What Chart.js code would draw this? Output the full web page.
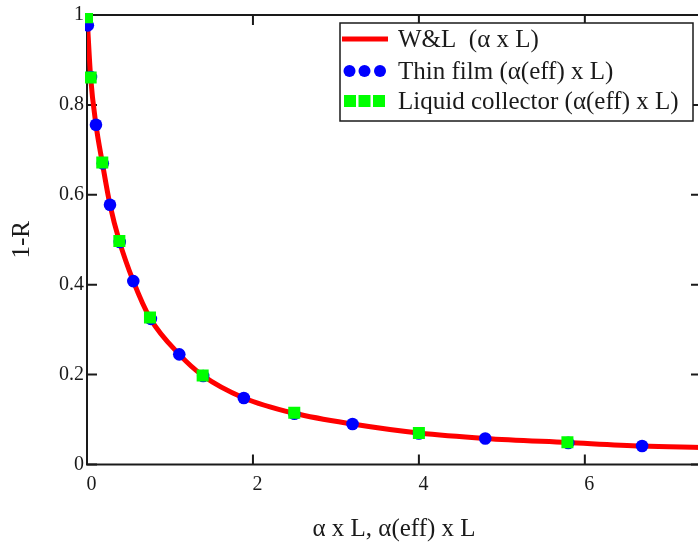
<!DOCTYPE html>
<html>
<head>
<meta charset="utf-8">
<script src="https://cdn.jsdelivr.net/npm/chart.js@4.4.1/dist/chart.umd.min.js"></script>
<style>
  html, body { margin: 0; padding: 0; overflow: hidden; background: #fff; }
  #wrap { width: 712px; height: 544px; }
</style>
</head>
<body>
<div id="wrap"><canvas id="chart" width="712" height="544"></canvas></div>
<script>
  // values
  var xTicks = [0, 2, 4, 6];
  var yTicks = [0, 0.2, 0.4, 0.6, 0.8, 1];

  var wlX = [0, 0.044, 0.108, 0.184, 0.277, 0.39, 0.558, 0.759, 1.112, 1.394, 1.89, 2.498, 3.2, 4.0, 4.8, 5.79, 6.69, 7.4];
  var wlY = [1.0, 0.861, 0.756, 0.672, 0.578, 0.497, 0.408, 0.326, 0.245, 0.198, 0.148, 0.114, 0.090, 0.070, 0.058, 0.049, 0.041, 0.038];

  var thinX = [0.01, 0.048, 0.108, 0.19, 0.277, 0.395, 0.558, 0.77, 1.112, 1.40, 1.89, 2.50, 3.20, 4.00, 4.80, 5.80, 6.69];
  var thinY = [0.977, 0.862, 0.756, 0.670, 0.578, 0.495, 0.408, 0.324, 0.245, 0.197, 0.148, 0.113, 0.090, 0.069, 0.058, 0.048, 0.041];

  var liqX = [0.0, 0.044, 0.184, 0.39, 0.759, 1.394, 2.498, 4.0, 5.79];
  var liqY = [0.995, 0.861, 0.672, 0.497, 0.327, 0.198, 0.115, 0.070, 0.0495];

  var seriesLabels = ['W&L  (\u03b1 x L)', 'Thin film (\u03b1(eff) x L)', 'Liquid collector (\u03b1(eff) x L)'];
  var xTitle = '\u03b1 x L, \u03b1(eff) x L';
  var yTitle = '1-R';

  var SERIF = "'Liberation Serif', 'DejaVu Serif', serif";
  var INK = '#1a1a1a';

  function pts(xs, ys) {
    return xs.map(function (x, i) { return { x: x, y: ys[i] }; });
  }

  var framePlugin = {
    id: 'frame',
    beforeDatasetsDraw: function (chart) {
      var a = chart.chartArea, ctx = chart.ctx;
      var xs = chart.scales.x, ys = chart.scales.y;
      var tl = 10;
      ctx.save();
      ctx.strokeStyle = INK;
      ctx.lineWidth = 2;
      ctx.strokeRect(a.left, a.top, a.right - a.left, a.bottom - a.top);
      ctx.beginPath();
      xTicks.forEach(function (v) {
        var px = xs.getPixelForValue(v);
        ctx.moveTo(px, a.bottom); ctx.lineTo(px, a.bottom - tl);
        ctx.moveTo(px, a.top); ctx.lineTo(px, a.top + tl);
      });
      yTicks.forEach(function (v) {
        var py = ys.getPixelForValue(v);
        ctx.moveTo(a.left, py); ctx.lineTo(a.left + tl, py);
        ctx.moveTo(a.right, py); ctx.lineTo(a.right - tl, py);
      });
      ctx.stroke();
      ctx.restore();
    }
  };

  var legendPlugin = {
    id: 'boxLegend',
    afterDraw: function (chart) {
      var ctx = chart.ctx, ds = chart.data.datasets;
      var bx = 340, by = 23, bw = 353, bh = 98;
      var rows = [39, 71, 101];
      ctx.save();
      ctx.fillStyle = '#fff';
      ctx.fillRect(bx, by, bw, bh);
      ctx.strokeStyle = INK;
      ctx.lineWidth = 1.5;
      ctx.strokeRect(bx, by, bw, bh);

      // line sample
      ctx.strokeStyle = ds[0].borderColor;
      ctx.lineWidth = 5;
      ctx.beginPath();
      ctx.moveTo(342, rows[0]); ctx.lineTo(388, rows[0]);
      ctx.stroke();

      // circles
      ctx.fillStyle = ds[1].backgroundColor;
      [349.5, 364.5, 380].forEach(function (cx) {
        ctx.beginPath();
        ctx.arc(cx, rows[1], 6, 0, Math.PI * 2);
        ctx.fill();
      });

      // squares
      ctx.fillStyle = ds[2].backgroundColor;
      [350, 364.5, 379].forEach(function (cx) {
        ctx.fillRect(cx - 6, rows[2] - 6, 12, 12);
      });

      ctx.fillStyle = INK;
      ctx.font = '25px ' + SERIF;
      ctx.textBaseline = 'middle';
      ctx.textAlign = 'left';
      ds.forEach(function (d, i) {
        ctx.fillText(d.label, 398, rows[i] + 1);
      });
      ctx.restore();
    }
  };

  new Chart(document.getElementById('chart'), {
    type: 'scatter',
    data: {
      datasets: [
        {
          label: seriesLabels[0],
          data: pts(wlX, wlY),
          showLine: true,
          borderColor: '#ff0000',
          borderWidth: 5,
          pointRadius: 0,
          cubicInterpolationMode: 'monotone',
          order: 3
        },
        {
          label: seriesLabels[1],
          data: pts(thinX, thinY),
          backgroundColor: '#0000ff',
          borderWidth: 0,
          pointStyle: 'circle',
          pointRadius: 6.3,
          clip: 2,
          order: 2
        },
        {
          label: seriesLabels[2],
          data: pts(liqX, liqY),
          backgroundColor: '#00ff00',
          borderWidth: 0,
          pointStyle: 'rect',
          pointRadius: 8.5,
          clip: 2,
          order: 1
        }
      ]
    },
    options: {
      responsive: false,
      animation: false,
      layout: { padding: { left: 0, right: 11, top: 10, bottom: 0 } },
      plugins: {
        legend: { display: false },
        tooltip: { enabled: false }
      },
      scales: {
        x: {
          type: 'linear',
          min: 0,
          max: 7.4,
          grid: { display: false, drawTicks: false },
          border: { display: false },
          afterBuildTicks: function (s) {
            s.ticks = xTicks.map(function (v) { return { value: v }; });
          },
          afterFit: function (s) { s.height = 79.5; },
          ticks: {
            color: INK,
            font: { family: SERIF, size: 20 },
            padding: 8,
            labelOffset: 4.5,
            maxRotation: 0,
            callback: function (v) { return String(v); }
          },
          title: {
            display: true,
            text: xTitle,
            color: INK,
            font: { family: SERIF, size: 25 },
            padding: { top: 0, bottom: 0 }
          }
        },
        y: {
          type: 'linear',
          min: 0,
          max: 1,
          grid: { display: false, drawTicks: false },
          border: { display: false },
          afterBuildTicks: function (s) {
            s.ticks = yTicks.map(function (v) { return { value: v }; });
          },
          afterFit: function (s) { s.width = 87; },
          ticks: {
            color: INK,
            font: { family: SERIF, size: 20 },
            padding: 3,
            callback: function (v) { return String(v); }
          },
          title: {
            display: true,
            text: yTitle,
            color: INK,
            font: { family: SERIF, size: 25 },
            padding: { top: 7, bottom: 0 }
          }
        }
      }
    },
    plugins: [framePlugin, legendPlugin]
  });
</script>
</body>
</html>
